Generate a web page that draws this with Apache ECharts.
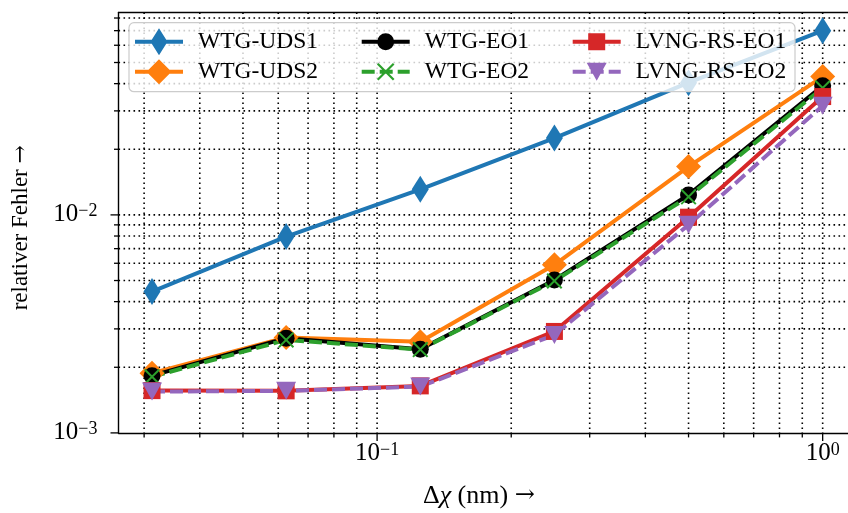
<!DOCTYPE html>
<html>
<head>
<meta charset="utf-8">
<script src="https://cdn.jsdelivr.net/npm/echarts@6/dist/echarts.min.js"></script>
<style>
  html, body { margin: 0; padding: 0; background: #fff; }
  #chart { width: 848px; height: 513px; }
</style>
</head>
<body>
<div id="chart"></div>
<script>
// Grid spacing Δχ (nm) and relative error of each scheme
const stepSizes = [1 / 32, 1 / 16, 1 / 8, 1 / 4, 1 / 2, 1];
const seriesNames = ['WTG-UDS1', 'WTG-UDS2', 'WTG-EO1', 'WTG-EO2', 'LVNG-RS-EO1', 'LVNG-RS-EO2'];
const errUDS1  = [4.45e-3, 7.95e-3, 1.31e-2, 2.25e-2, 4.04e-2, 7.0e-2];
const errUDS2  = [1.88e-3, 2.74e-3, 2.62e-3, 5.90e-3, 1.666e-2, 4.31e-2];
const errEO1   = [1.83e-3, 2.72e-3, 2.42e-3, 5.03e-3, 1.235e-2, 3.91e-2];
const errEO2   = [1.81e-3, 2.67e-3, 2.41e-3, 4.98e-3, 1.21e-2, 3.82e-2];
const errRSEO1 = [1.563e-3, 1.559e-3, 1.643e-3, 2.92e-3, 9.76e-3, 3.49e-2];
const errRSEO2 = [1.547e-3, 1.559e-3, 1.631e-3, 2.815e-3, 9.0e-3, 3.17e-2];

// Tick positions (log axes)
const xMajorTicks = [0.1, 1];
const xMinorTicks = [0.03, 0.04, 0.05, 0.06, 0.07, 0.08, 0.09, 0.2, 0.3, 0.4, 0.5, 0.6, 0.7, 0.8, 0.9];
const yMajorTicks = [1e-3, 1e-2];
const yMinorTicks = [2e-3, 3e-3, 4e-3, 5e-3, 6e-3, 7e-3, 8e-3, 9e-3, 2e-2, 3e-2, 4e-2, 5e-2, 6e-2, 7e-2, 8e-2];

// Axis limits
const X_MIN = 0.02628, X_MAX = 1.1892;
const Y_MIN = 1e-3, Y_MAX = 0.0848;

const FONT = 'Liberation Serif';
const ARROW_FONT = 'DejaVu Serif';
const colors = ['#1f77b4', '#ff7f0e', '#000000', '#2ca02c', '#d62728', '#9467bd'];

// Marker shapes
const SYM_THIN_DIAMOND = 'path://M0,-13.5L8.5,0L0,13.5L-8.5,0Z';
const SYM_X = 'path://M-7.22,-8.78L8.78,7.22L7.22,8.78L-8.78,-7.22Z' +
              'M-7.22,8.78L-8.78,7.22L7.22,-8.78L8.78,-7.22Z';
const SYM_TRI_DOWN = 'path://M-10,-9L10,-9L0,9Z';

// Legend handles: line segment plus marker, box 58 x 30 (anchored corners)
const ANCHOR = 'M0,-15L58,-15M0,15L58,15';
const SOLID = 'M0,-2L48,-2L48,2L0,2Z';
const DASHED = 'M0,-2L13,-2L13,2L0,2Z M18,-2L31,-2L31,2L18,2Z M36,-2L48,-2L48,2L36,2Z';
const legendIcons = {
  'WTG-UDS1': 'path://' + ANCHOR + SOLID + 'M24,-13.5L32.5,0L24,13.5L15.5,0Z',
  'WTG-UDS2': 'path://' + ANCHOR + SOLID + 'M24,-12.5L36.5,0L24,12.5L11.5,0Z',
  'WTG-EO1': 'path://' + ANCHOR + SOLID + 'M15.5,0A8.5,8.5 0 1,1 32.5,0A8.5,8.5 0 1,1 15.5,0Z',
  'WTG-EO2': 'path://' + ANCHOR + DASHED +
             'M16.78,-8.78L32.78,7.22L31.22,8.78L15.22,-7.22Z' +
             'M16.78,8.78L15.22,7.22L31.22,-8.78L32.78,-7.22Z',
  'LVNG-RS-EO1': 'path://' + ANCHOR + SOLID + 'M15.5,-8.5L32.5,-8.5L32.5,8.5L15.5,8.5Z',
  'LVNG-RS-EO2': 'path://' + ANCHOR + DASHED + 'M14,-9L34,-9L24,9Z'
};

const seriesSpec = [
  { name: seriesNames[0], values: errUDS1,  symbol: SYM_THIN_DIAMOND, size: [17, 27], dash: 'solid' },
  { name: seriesNames[1], values: errUDS2,  symbol: 'diamond',        size: [25, 25], dash: 'solid' },
  { name: seriesNames[2], values: errEO1,   symbol: 'circle',         size: 17,       dash: 'solid' },
  { name: seriesNames[3], values: errEO2,   symbol: SYM_X,            size: 16,       dash: [13, 5] },
  { name: seriesNames[4], values: errRSEO1, symbol: 'rect',           size: 17,       dash: 'solid' },
  { name: seriesNames[5], values: errRSEO2, symbol: SYM_TRI_DOWN,     size: [20, 18], dash: [13, 5] }
];

const gridLineStyle = { stroke: '#000', lineWidth: 1.6, lineDash: [1.6, 3.4] };
const tickStyle = { stroke: '#000', lineWidth: 1.3 };
const spineStyle = { color: '#000', width: 1.4 };

function powerLabel(v) {
  const lg = Math.log10(v);
  const e = Math.round(lg);
  if (Math.abs(lg - e) > 1e-6) return '';
  const exp = e < 0 ? '\u2212' + (-e) : String(e);
  return '{b|10}{s|' + exp + '}';
}
const labelRich = {
  b: { fontFamily: FONT, fontSize: 25, color: '#000', lineHeight: 26 },
  s: { fontFamily: FONT, fontSize: 18, color: '#000', lineHeight: 16, verticalAlign: 'top' }
};

const lineSeries = seriesSpec.map((s, i) => ({
  name: s.name,
  type: 'line',
  data: stepSizes.map((x, k) => [x, s.values[k]]),
  symbol: s.symbol,
  symbolSize: s.size,
  showSymbol: true,
  lineStyle: { color: colors[i], width: 4, type: s.dash, join: 'round' },
  itemStyle: { color: colors[i], borderWidth: 0 },
  emphasis: { disabled: true },
  z: 2
}));

// Dotted grid lines and outward ticks for both log axes
const xGridSeries = {
  type: 'custom',
  z: 1,
  silent: true,
  encode: { x: 0, y: 1 },
  data: xMajorTicks.map(v => [v, Y_MIN, 1]).concat(xMinorTicks.map(v => [v, Y_MIN, 0])),
  renderItem: (params, api) => {
    const v = api.value(0);
    const bottom = api.coord([v, Y_MIN]);
    const top = api.coord([v, Y_MAX]);
    const len = api.value(2) ? 8 : 4.5;
    return {
      type: 'group',
      children: [
        { type: 'line', shape: { x1: bottom[0], y1: top[1], x2: bottom[0], y2: bottom[1] }, style: gridLineStyle },
        { type: 'line', shape: { x1: bottom[0], y1: bottom[1], x2: bottom[0], y2: bottom[1] + len }, style: tickStyle }
      ]
    };
  }
};
const yGridSeries = {
  type: 'custom',
  z: 1,
  silent: true,
  encode: { x: 0, y: 1 },
  data: yMajorTicks.map(v => [X_MIN, v, 1]).concat(yMinorTicks.map(v => [X_MIN, v, 0])),
  renderItem: (params, api) => {
    const v = api.value(1);
    const left = api.coord([X_MIN, v]);
    const right = api.coord([X_MAX, v]);
    const len = api.value(2) ? 8 : 4.5;
    const children = [
      { type: 'line', shape: { x1: left[0] - len, y1: left[1], x2: left[0], y2: left[1] }, style: tickStyle }
    ];
    if (v > Y_MIN) {
      children.push({ type: 'line', shape: { x1: left[0], y1: left[1], x2: right[0], y2: left[1] }, style: gridLineStyle });
    }
    return { type: 'group', children };
  }
};

function makeLegend(left, names) {
  return {
    left: left,
    top: 26.7,
    orient: 'vertical',
    padding: 0,
    itemWidth: 58,
    itemHeight: 30,
    itemGap: 0,
    selectedMode: false,
    symbolKeepAspect: true,
    itemStyle: { borderWidth: 0 },
    textStyle: { fontFamily: FONT, fontSize: 23.5, color: '#000' },
    data: names.map(n => ({ name: n, icon: legendIcons[n] }))
  };
}

const chart = echarts.init(document.getElementById('chart'), null, { renderer: 'canvas' });
chart.setOption({
  animation: false,
  backgroundColor: '#fff',
  grid: {
    left: 118.5,
    top: 12.5,
    right: -8.2,
    bottom: 80.1,
    outerBoundsMode: 'none',
    containLabel: false
  },
  xAxis: [{
    type: 'log',
    logBase: 10,
    min: X_MIN,
    max: X_MAX,
    axisLine: { show: true, lineStyle: spineStyle },
    axisTick: { show: false },
    splitLine: { show: false },
    axisLabel: { margin: 8, formatter: powerLabel, rich: labelRich },
    name: '{n|\u0394}{i|\u03c7}{n| (nm) }{a|\u2192}',
    nameLocation: 'middle',
    nameGap: 50,
    nameTextStyle: {
      padding: [0, 17, 0, 0],
      rich: {
        n: { fontFamily: FONT, fontSize: 26, color: '#000' },
        i: { fontFamily: FONT, fontSize: 26, fontStyle: 'italic', color: '#000' },
        a: { fontFamily: ARROW_FONT, fontSize: 24, color: '#000' }
      }
    }
  }, {
    // top spine
    type: 'log',
    logBase: 10,
    min: X_MIN,
    max: X_MAX,
    position: 'top',
    axisLine: { show: true, lineStyle: spineStyle },
    axisTick: { show: false },
    axisLabel: { show: false },
    splitLine: { show: false }
  }],
  yAxis: {
    type: 'log',
    logBase: 10,
    min: Y_MIN,
    max: Y_MAX,
    axisLine: { show: true, lineStyle: spineStyle },
    axisTick: { show: false },
    splitLine: { show: false },
    axisLabel: { margin: 21, formatter: powerLabel, rich: labelRich },
    name: '{t|relativer Fehler }{a|\u2192}',
    nameLocation: 'middle',
    nameRotate: 90,
    nameGap: 86,
    nameTextStyle: {
      padding: [0, 10, 0, 0],
      rich: {
        t: { fontFamily: FONT, fontSize: 23, color: '#000' },
        a: { fontFamily: ARROW_FONT, fontSize: 22, color: '#000' }
      }
    }
  },
  legend: [
    makeLegend(135, [seriesNames[0], seriesNames[1]]),
    makeLegend(361.7, [seriesNames[2], seriesNames[3]]),
    makeLegend(572.7, [seriesNames[4], seriesNames[5]])
  ],
  graphic: [{
    type: 'rect',
    z: 3,
    silent: true,
    shape: { x: 129, y: 22.7, width: 666, height: 69, r: 5 },
    style: { fill: 'rgba(255,255,255,0.8)', stroke: '#cccccc', lineWidth: 1.2 }
  }],
  series: [xGridSeries, yGridSeries].concat(lineSeries)
});
</script>
</body>
</html>
